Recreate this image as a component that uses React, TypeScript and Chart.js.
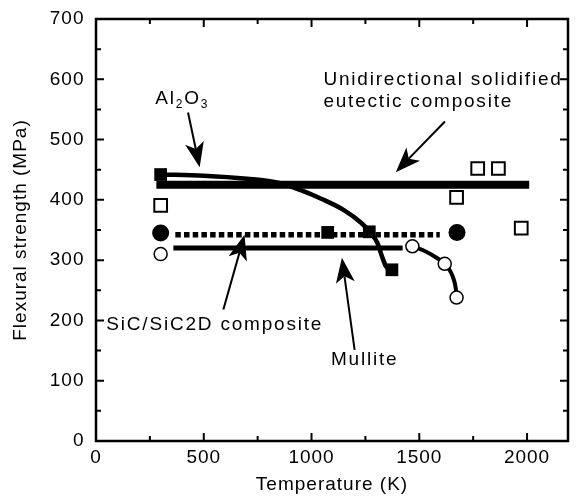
import React, { useEffect, useRef } from 'react';
import { Chart, registerables } from 'chart.js';

Chart.register(...registerables);

const FONT = '"Liberation Sans", Arial, Helvetica, sans-serif';

// Axes
const xMin = 0;
const xMax = 2190;
const yMin = 0;
const yMax = 700;
const xTickValues = [0, 500, 1000, 1500, 2000];
const yTickValues = [0, 100, 200, 300, 400, 500, 600, 700];
const xMajorStep = 500;
const xMinorStep = 250;
const yMajorStep = 100;
const yMinorStep = 50;
const xTitle = 'Temperature (K)';
const yTitle = 'Flexural strength (MPa)';

// Unidirectional solidified eutectic composite
const eutecticLineX = [280, 2010];
const eutecticLineY = [425, 425];
const eutecticSquaresX = [300, 1673, 1771, 1867, 1973];
const eutecticSquaresY = [391, 404, 452, 452, 353];

// Al2O3
const al2o3CurveX = [300, 500, 700, 850, 950, 1050, 1150, 1230, 1270, 1305, 1327, 1345, 1362];
const al2o3CurveY = [442, 440, 435, 428, 416, 401, 383, 362, 347, 329, 306, 290, 284];
const al2o3SquaresX = [300, 1075, 1268, 1373];
const al2o3SquaresY = [442, 346, 347, 284];

// SiC/SiC 2D composite
const sicLineX = [368, 1595];
const sicLineY = [342, 342];
const sicCirclesX = [300, 1675];
const sicCirclesY = [345, 346];

// Mullite
const mulliteLineX = [359, 1423];
const mulliteLineY = [320, 320];
const mulliteCurveX = [1468, 1532, 1580, 1618, 1640, 1655, 1666, 1672];
const mulliteCurveY = [323, 314, 304, 294, 284, 273, 260, 246];
const mulliteCirclesX = [300, 1468, 1618, 1673];
const mulliteCirclesY = [310, 323, 294, 238];

// Annotations (data coordinates)
const labelTexts = ['Unidirectional solidified', 'eutectic composite', 'SiC/SiC2D composite', 'Mullite'];
const labelX = [1055, 1055, 48, 1090];
const labelY = [600, 562, 193, 135];
const al2o3LabelX = 275;
const al2o3LabelY = 567;

const arrowTailX = [427, 1619, 591, 1200];
const arrowTailY = [545, 530, 218, 151];
const arrowHeadX = [481, 1391, 689, 1141];
const arrowHeadY = [454, 446, 342, 304];

function pts(xs: number[], ys: number[]) {
  return xs.map((x, i) => ({ x, y: ys[i] }));
}

function drawArrow(ctx: CanvasRenderingContext2D, x1: number, y1: number, x2: number, y2: number) {
  const len = 25;
  const hw = 9.5;
  const ang = Math.atan2(y2 - y1, x2 - x1);
  const c = Math.cos(ang);
  const s = Math.sin(ang);
  const bx = x2 - len * c;
  const by = y2 - len * s;
  const nx = x2 - len * 0.75 * c;
  const ny = y2 - len * 0.75 * s;
  ctx.beginPath();
  ctx.moveTo(x1, y1);
  ctx.lineTo(nx, ny);
  ctx.lineWidth = 2;
  ctx.strokeStyle = '#000';
  ctx.stroke();
  ctx.beginPath();
  ctx.moveTo(x2, y2);
  ctx.lineTo(bx - hw * s, by + hw * c);
  ctx.lineTo(nx, ny);
  ctx.lineTo(bx + hw * s, by - hw * c);
  ctx.closePath();
  ctx.fillStyle = '#000';
  ctx.fill();
}

const spacingPlugin = {
  id: 'spacing',
  beforeDraw(chart: any) {
    (chart.ctx as any).letterSpacing = '1px';
  },
};

const framePlugin = {
  id: 'frame',
  beforeDatasetsDraw(chart: any) {
    const { ctx, chartArea: a, scales } = chart;
    const xs = scales.x;
    const ys = scales.y;
    ctx.save();
    ctx.strokeStyle = '#000';
    ctx.lineWidth = 2.5;
    ctx.strokeRect(a.left, a.top, a.right - a.left, a.bottom - a.top);
    ctx.lineWidth = 2;
    ctx.beginPath();
    for (let v = xMin + xMinorStep; v < xMax; v += xMinorStep) {
      const px = xs.getPixelForValue(v);
      const L = v % xMajorStep === 0 ? 8 : 5;
      ctx.moveTo(px, a.bottom);
      ctx.lineTo(px, a.bottom - L);
      ctx.moveTo(px, a.top);
      ctx.lineTo(px, a.top + L);
    }
    for (let v = yMin + yMinorStep; v < yMax; v += yMinorStep) {
      const py = ys.getPixelForValue(v);
      const L = v % yMajorStep === 0 ? 8 : 5;
      ctx.moveTo(a.left, py);
      ctx.lineTo(a.left + L, py);
      ctx.moveTo(a.right, py);
      ctx.lineTo(a.right - L, py);
    }
    ctx.stroke();
    ctx.restore();
  },
  afterDatasetsDraw(chart: any) {
    const { ctx, scales } = chart;
    const xs = scales.x;
    const ys = scales.y;
    ctx.save();
    for (let i = 0; i < arrowTailX.length; i++) {
      drawArrow(
        ctx,
        xs.getPixelForValue(arrowTailX[i]),
        ys.getPixelForValue(arrowTailY[i]),
        xs.getPixelForValue(arrowHeadX[i]),
        ys.getPixelForValue(arrowHeadY[i])
      );
    }
    ctx.fillStyle = '#000';
    ctx.textBaseline = 'middle';
    ctx.textAlign = 'left';
    (ctx as any).letterSpacing = '1.8px';
    ctx.font = `19px ${FONT}`;
    for (let i = 0; i < labelTexts.length; i++) {
      ctx.fillText(labelTexts[i], xs.getPixelForValue(labelX[i]), ys.getPixelForValue(labelY[i]));
    }
    // Al2O3 with subscripts
    let px = xs.getPixelForValue(al2o3LabelX);
    const py = ys.getPixelForValue(al2o3LabelY);
    const parts: [string, boolean][] = [['Al', false], ['2', true], ['O', false], ['3', true]];
    for (const [t, sub] of parts) {
      ctx.font = sub ? `12px ${FONT}` : `19px ${FONT}`;
      ctx.fillText(t, px, sub ? py + 6 : py);
      px += ctx.measureText(t).width;
    }
    ctx.restore();
  },
};

export default function App() {
  const ref = useRef<HTMLCanvasElement>(null);
  useEffect(() => {
    if (!ref.current) return;
    const markerBase = { showLine: false, pointHoverRadius: 0 };
    const chart = new Chart(ref.current, {
      type: 'scatter',
      data: {
        datasets: [
          {
            ...markerBase,
            label: 'Al2O3 data',
            data: pts(al2o3SquaresX, al2o3SquaresY),
            pointStyle: 'rect',
            pointRadius: 9,
            pointBackgroundColor: '#000',
            pointBorderColor: '#000',
            pointBorderWidth: 0,
            order: 1,
          },
          {
            ...markerBase,
            label: 'Eutectic data',
            data: pts(eutecticSquaresX, eutecticSquaresY),
            pointStyle: 'rect',
            pointRadius: 9,
            pointBackgroundColor: '#fff',
            pointBorderColor: '#000',
            pointBorderWidth: 2,
            order: 1,
          },
          {
            ...markerBase,
            label: 'SiC data',
            data: pts(sicCirclesX, sicCirclesY),
            pointStyle: 'circle',
            pointRadius: 8.5,
            pointBackgroundColor: '#000',
            pointBorderColor: '#000',
            pointBorderWidth: 0,
            order: 1,
          },
          {
            ...markerBase,
            label: 'Mullite data',
            data: pts(mulliteCirclesX, mulliteCirclesY),
            pointStyle: 'circle',
            pointRadius: 6.5,
            pointBackgroundColor: '#fff',
            pointBorderColor: '#000',
            pointBorderWidth: 1.5,
            order: 1,
          },
          {
            label: 'Al2O3 curve',
            data: pts(al2o3CurveX, al2o3CurveY),
            showLine: true,
            borderColor: '#000',
            borderWidth: 4.5,
            pointRadius: 0,
            cubicInterpolationMode: 'monotone',
            order: 2,
          },
          {
            label: 'Mullite curve',
            data: pts(mulliteCurveX, mulliteCurveY),
            showLine: true,
            borderColor: '#000',
            borderWidth: 4,
            pointRadius: 0,
            cubicInterpolationMode: 'monotone',
            order: 2,
          },
          {
            label: 'Mullite line',
            data: pts(mulliteLineX, mulliteLineY),
            showLine: true,
            borderColor: '#000',
            borderWidth: 5,
            borderCapStyle: 'butt',
            pointRadius: 0,
            order: 3,
          },
          {
            label: 'SiC line',
            data: pts(sicLineX, sicLineY),
            showLine: true,
            borderColor: '#000',
            borderWidth: 5.5,
            borderDash: [5.5, 3.2],
            borderCapStyle: 'butt',
            pointRadius: 0,
            order: 3,
          },
          {
            label: 'Eutectic line',
            data: pts(eutecticLineX, eutecticLineY),
            showLine: true,
            borderColor: '#000',
            borderWidth: 8,
            borderCapStyle: 'butt',
            pointRadius: 0,
            order: 4,
          },
        ] as any,
      },
      options: {
        animation: false,
        responsive: false,
        events: [],
        layout: { padding: { top: 19, right: 1, left: 0, bottom: 0 } },
        plugins: { legend: { display: false }, tooltip: { enabled: false } },
        scales: {
          x: {
            type: 'linear',
            min: xMin,
            max: xMax,
            afterBuildTicks: (s: any) => {
              s.ticks = xTickValues.map((v) => ({ value: v }));
            },
            afterFit: (s: any) => {
              s.height = 62;
              s.paddingLeft = 0;
              s.paddingRight = 0;
            },
            ticks: {
              color: '#000',
              font: { family: FONT, size: 19 },
              padding: 5,
              maxRotation: 0,
              autoSkip: false,
              callback: (v: any) => String(v),
            },
            grid: { display: false, drawTicks: false },
            border: { display: false },
            title: {
              display: true,
              text: xTitle,
              color: '#000',
              font: { family: FONT, size: 19 },
              padding: { top: 0, bottom: 6.6 },
            },
          },
          y: {
            type: 'linear',
            min: yMin,
            max: yMax,
            afterBuildTicks: (s: any) => {
              s.ticks = yTickValues.map((v) => ({ value: v }));
            },
            afterFit: (s: any) => {
              s.width = 96;
              s.paddingTop = 0;
              s.paddingBottom = 0;
            },
            ticks: {
              color: '#000',
              font: { family: FONT, size: 19 },
              padding: 11.5,
              autoSkip: false,
              callback: (v: any) => String(v),
            },
            grid: { display: false, drawTicks: false },
            border: { display: false },
            title: {
              display: true,
              text: yTitle,
              color: '#000',
              font: { family: FONT, size: 19 },
              padding: { top: 9.6, bottom: 0 },
            },
          },
        },
      } as any,
      plugins: [spacingPlugin, framePlugin],
    });
    return () => chart.destroy();
  }, []);
  return (
    <div style={{ position: 'fixed', left: 0, top: 0, width: 579, height: 503, background: '#fff' }}>
      <canvas ref={ref} width={579} height={503} style={{ display: 'block' }} />
    </div>
  );
}
